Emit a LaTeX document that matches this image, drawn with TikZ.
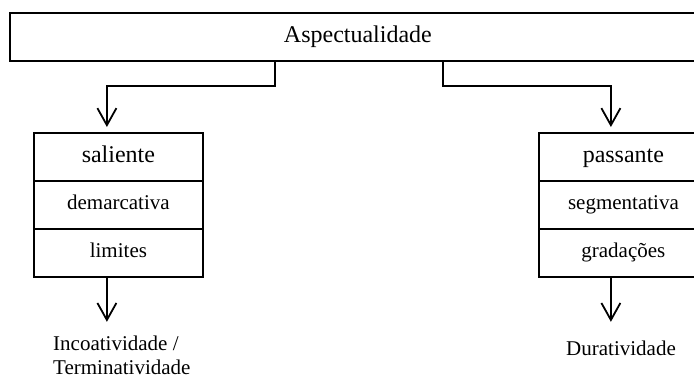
\documentclass[tikz,border=0pt]{standalone}
\usepackage{fontspec}
\setmainfont{Liberation Serif}
\usetikzlibrary{arrows.meta}
\begin{document}
\begin{tikzpicture}[x=1pt,y=-1pt,
  box/.style={draw, line width=1.8pt, inner sep=0pt, anchor=north west,
              minimum width=169pt, minimum height=48pt},
  big/.style={font=\fontsize{24}{28}\selectfont, text height=16pt, text depth=5pt},
  small/.style={font=\fontsize{21}{25}\selectfont, text height=14pt, text depth=4.5pt},
  label/.style={font=\fontsize{21}{24}\selectfont, inner sep=0pt},
  conn/.style={line width=1.8pt, line join=miter,
               -{Straight Barb[length=17pt,width=19pt,line width=1.8pt]}},
]
\useasboundingbox (0,0) rectangle (694,378);
\clip (0,0) rectangle (694,378);

\node[box, big, minimum width=696pt] (top) at (9,12) {Aspectualidade};

\node[box, big]   (s1) at (33,132) {saliente};
\node[box, small] (s2) at (33,180) {demarcativa};
\node[box, small] (s3) at (33,228) {limites};

\node[box, big]   (p1) at (538,132) {passante};
\node[box, small] (p2) at (538,180) {segmentativa};
\node[box, small] (p3) at (538,228) {gradações};

\draw[conn] ([xshift=-83pt]top.south) |- ++(0,24) -| ([xshift=-11.5pt,yshift=5pt]s1.north);
\draw[conn] ([xshift=85pt]top.south) |- ++(0,24) -| ([xshift=-12.5pt,yshift=5pt]p1.north);

\node[label, align=left, anchor=west] (inc) at (53,355) {Incoatividade /\\Terminatividade};
\node[label] (dur) at (621,348) {Duratividade};

\draw[conn] ([xshift=-11.5pt]s3.south) -- ([xshift=-11.5pt,yshift=-44pt]s3.south);
\draw[conn] ([xshift=-12.5pt]p3.south) -- ([xshift=-12.5pt,yshift=-44pt]p3.south);
\end{tikzpicture}
\end{document}
